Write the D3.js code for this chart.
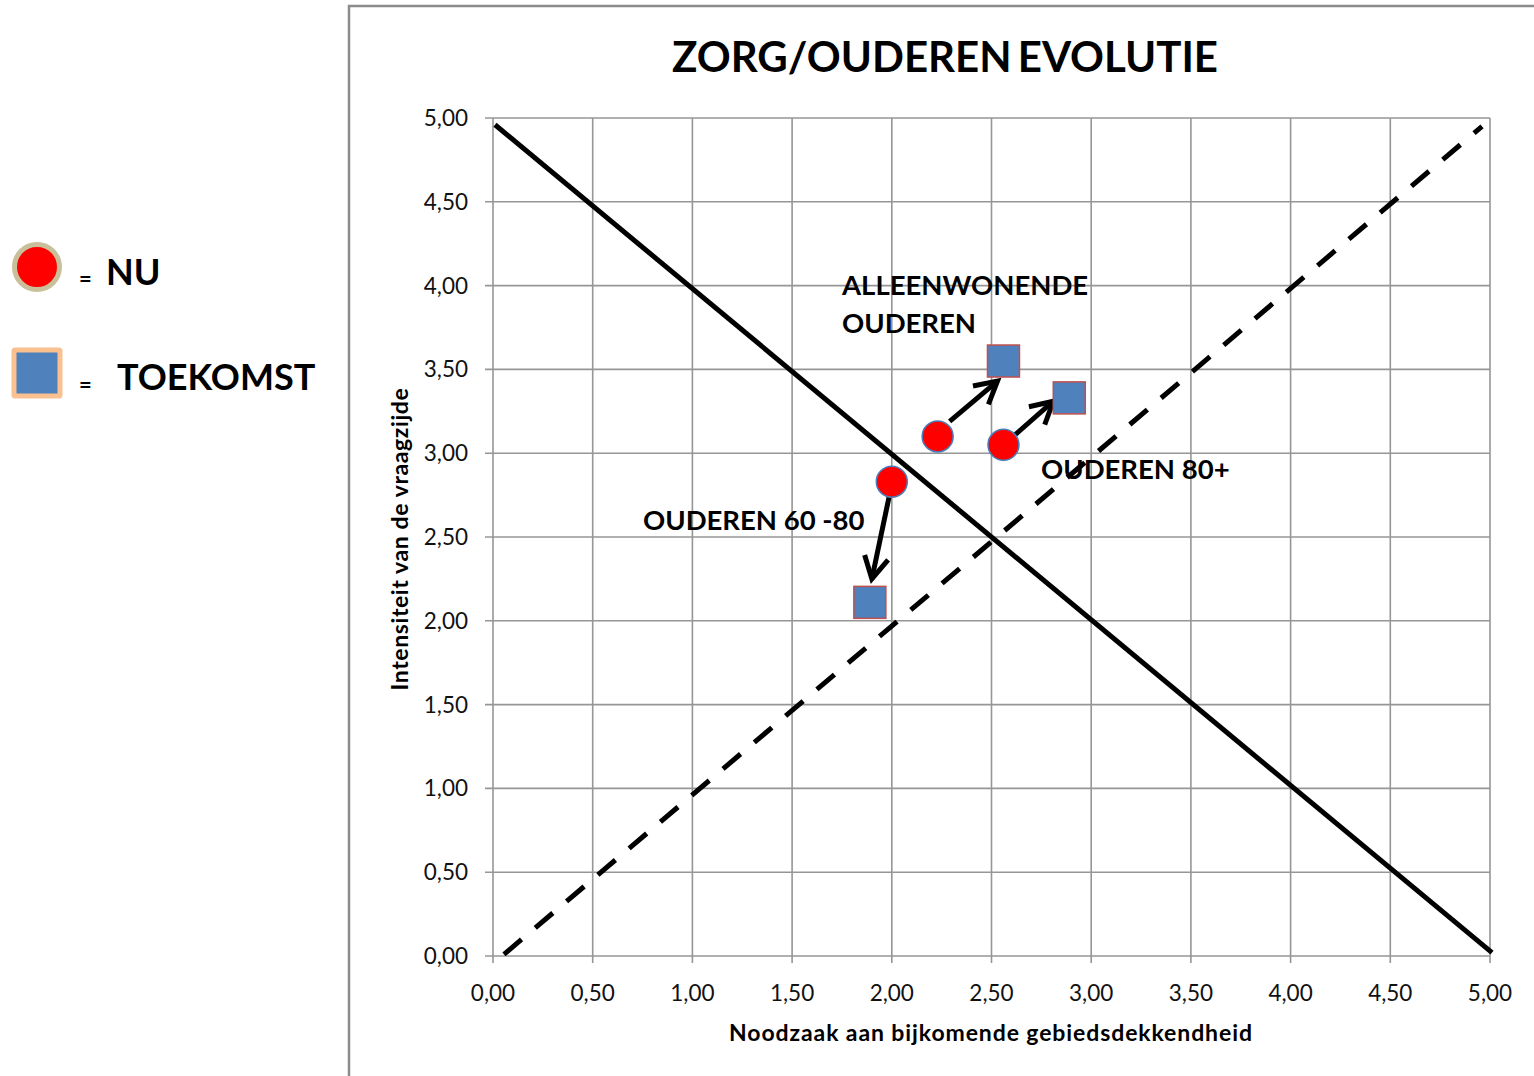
<!DOCTYPE html>
<html>
<head>
<meta charset="utf-8">
<script src="https://cdn.jsdelivr.net/npm/d3@7"></script>
<style>
  html, body { margin: 0; padding: 0; background: #fff; }
  svg { display: block; }
</style>
</head>
<body>
<svg id="chart" width="1534" height="1076"></svg>
<script>
// ---- data ----
const title = "ZORG/OUDEREN EVOLUTIE";
const xAxisTitle = "Noodzaak aan bijkomende gebiedsdekkendheid";
const yAxisTitle = "Intensiteit van de vraagzijde";
const tickValues = [0, 0.5, 1, 1.5, 2, 2.5, 3, 3.5, 4, 4.5, 5];
const tickLabels = ["0,00","0,50","1,00","1,50","2,00","2,50","3,00","3,50","4,00","4,50","5,00"];
const groups = ["OUDEREN 60 -80", "ALLEENWONENDE OUDEREN", "OUDEREN 80+"];
const nuX = [2.00, 2.23, 2.56];
const nuY = [2.83, 3.10, 3.05];
const toekomstX = [1.89, 2.56, 2.89];
const toekomstY = [2.11, 3.55, 3.33];
// arrows: start and tip (data units)
const arrowFromX = [1.99, 2.29, 2.58];
const arrowFromY = [2.76, 3.19, 3.07];
const arrowToX = [1.90, 2.53, 2.81];
const arrowToY = [2.25, 3.43, 3.31];
// reference lines
const solidLineX = [0.01, 5.01];
const solidLineY = [4.96, 0.02];
const dashLineX = [0.055, 4.96];
const dashLineY = [0.01, 4.95];
const legendLabels = ["NU", "TOEKOMST"];

// ---- drawing ----
const svg = d3.select("#chart");
const x = d3.scaleLinear().domain([0, 5]).range([493, 1490]);
const y = d3.scaleLinear().domain([0, 5]).range([956, 118]);
const fontB = "Lato, 'Open Sans', sans-serif";

// chart area border
svg.append("path")
  .attr("d", "M349,1076 V6 H1534")
  .attr("fill", "none").attr("stroke", "#8c8c8c").attr("stroke-width", 2.5);

// gridlines
const gridColor = "#969696";
svg.append("g").selectAll("line.v").data(tickValues).join("line")
  .attr("x1", d => x(d)).attr("x2", d => x(d))
  .attr("y1", y(5)).attr("y2", y(0) + 7)
  .attr("stroke", gridColor).attr("stroke-width", 1.6);
svg.append("g").selectAll("line.h").data(tickValues).join("line")
  .attr("y1", d => y(d)).attr("y2", d => y(d))
  .attr("x1", x(0) - 8).attr("x2", x(5))
  .attr("stroke", gridColor).attr("stroke-width", 1.6);

// tick labels
svg.append("g").selectAll("text").data(tickValues).join("text")
  .attr("x", 468).attr("y", d => y(d) + 8)
  .attr("text-anchor", "end")
  .attr("font-family", fontB).attr("font-size", 22.5).attr("fill", "#111")
  .text((d, i) => tickLabels[i]);
svg.append("g").selectAll("text").data(tickValues).join("text")
  .attr("x", d => x(d)).attr("y", 1001)
  .attr("text-anchor", "middle")
  .attr("font-family", fontB).attr("font-size", 22.5).attr("fill", "#111")
  .text((d, i) => tickLabels[i]);

// axis titles
svg.append("text")
  .attr("x", 991).attr("y", 1041).attr("text-anchor", "middle")
  .attr("font-family", fontB).attr("font-weight", "bold").attr("font-size", 23)
  .attr("letter-spacing", 0.9)
  .text(xAxisTitle);
svg.append("text")
  .attr("transform", "translate(408,539) rotate(-90)")
  .attr("text-anchor", "middle")
  .attr("font-family", fontB).attr("font-weight", "bold").attr("font-size", 23)
  .attr("letter-spacing", 0.6)
  .text(yAxisTitle);

// title
svg.append("text")
  .attr("x", 945).attr("y", 72).attr("text-anchor", "middle")
  .attr("font-family", fontB).attr("font-weight", "bold").attr("font-size", 42)
  .attr("word-spacing", -4)
  .text(title);

// reference lines
const line = d3.line().x(d => x(d[0])).y(d => y(d[1]));
svg.append("path")
  .attr("d", line(d3.zip(solidLineX, solidLineY)))
  .attr("stroke", "#000").attr("stroke-width", 5).attr("fill", "none");
svg.append("path")
  .attr("d", line(d3.zip(dashLineX, dashLineY)))
  .attr("stroke", "#000").attr("stroke-width", 5).attr("fill", "none")
  .attr("stroke-dasharray", "23,18");

// arrows
const arrows = d3.range(arrowFromX.length).map(i => ({
  x1: x(arrowFromX[i]), y1: y(arrowFromY[i]), x2: x(arrowToX[i]), y2: y(arrowToY[i])
}));
const ag = svg.append("g");
arrows.forEach(a => {
  const ang = Math.atan2(a.y2 - a.y1, a.x2 - a.x1);
  const L = 25, spread = 0.5;
  const p1 = [a.x2 - L * Math.cos(ang - spread), a.y2 - L * Math.sin(ang - spread)];
  const p2 = [a.x2 - L * Math.cos(ang + spread), a.y2 - L * Math.sin(ang + spread)];
  ag.append("line").attr("x1", a.x1).attr("y1", a.y1).attr("x2", a.x2).attr("y2", a.y2)
    .attr("stroke", "#000").attr("stroke-width", 5);
  ag.append("path")
    .attr("d", `M${p1[0]},${p1[1]} L${a.x2},${a.y2} L${p2[0]},${p2[1]}`)
    .attr("stroke", "#000").attr("stroke-width", 5).attr("fill", "none")
    .attr("stroke-linejoin", "miter");
});

// markers
svg.append("g").selectAll("circle").data(nuX).join("circle")
  .attr("cx", d => x(d)).attr("cy", (d, i) => y(nuY[i])).attr("r", 15.5)
  .attr("fill", "#ff0000").attr("stroke", "#4a7ebb").attr("stroke-width", 1.5);
const sq = 32;
svg.append("g").selectAll("rect").data(toekomstX).join("rect")
  .attr("x", d => x(d) - sq / 2).attr("y", (d, i) => y(toekomstY[i]) - sq / 2)
  .attr("width", sq).attr("height", sq)
  .attr("fill", "#4f81bd").attr("stroke", "#c0504d").attr("stroke-width", 1.5);

// data labels
const labelSpec = [
  { lines: ["OUDEREN 60 -80"], x: 643, y: 530 },
  { lines: ["ALLEENWONENDE", "OUDEREN"], x: 842, y: 295 },
  { lines: ["OUDEREN 80+"], x: 1041, y: 479 }
];
labelSpec.forEach((s, i) => {
  const t = svg.append("text")
    .attr("font-family", fontB).attr("font-weight", "bold").attr("font-size", 27.5)
    .attr("fill", "#000");
  s.lines.forEach((ln, j) => {
    t.append("tspan").attr("x", s.x).attr("y", s.y + j * 38).text(ln);
  });
});

// legend
const lg = svg.append("g");
lg.append("circle").attr("cx", 37).attr("cy", 267).attr("r", 22.5)
  .attr("fill", "#ff0000").attr("stroke", "#c9bf9a").attr("stroke-width", 5);
lg.append("rect").attr("x", 14).attr("y", 350).attr("width", 46).attr("height", 46)
  .attr("fill", "#4f81bd").attr("stroke", "#fac090").attr("stroke-width", 5).attr("rx", 1);
lg.append("text").attr("x", 79).attr("y", 287)
  .attr("font-family", fontB).attr("font-weight", "bold").attr("font-size", 22).text("=");
lg.append("text").attr("x", 79).attr("y", 393)
  .attr("font-family", fontB).attr("font-weight", "bold").attr("font-size", 22).text("=");
lg.append("text").attr("x", 106).attr("y", 285)
  .attr("font-family", fontB).attr("font-weight", "bold").attr("font-size", 36).text(legendLabels[0]);
lg.append("text").attr("x", 117).attr("y", 390)
  .attr("font-family", fontB).attr("font-weight", "bold").attr("font-size", 36).text(legendLabels[1]);
</script>
</body>
</html>
